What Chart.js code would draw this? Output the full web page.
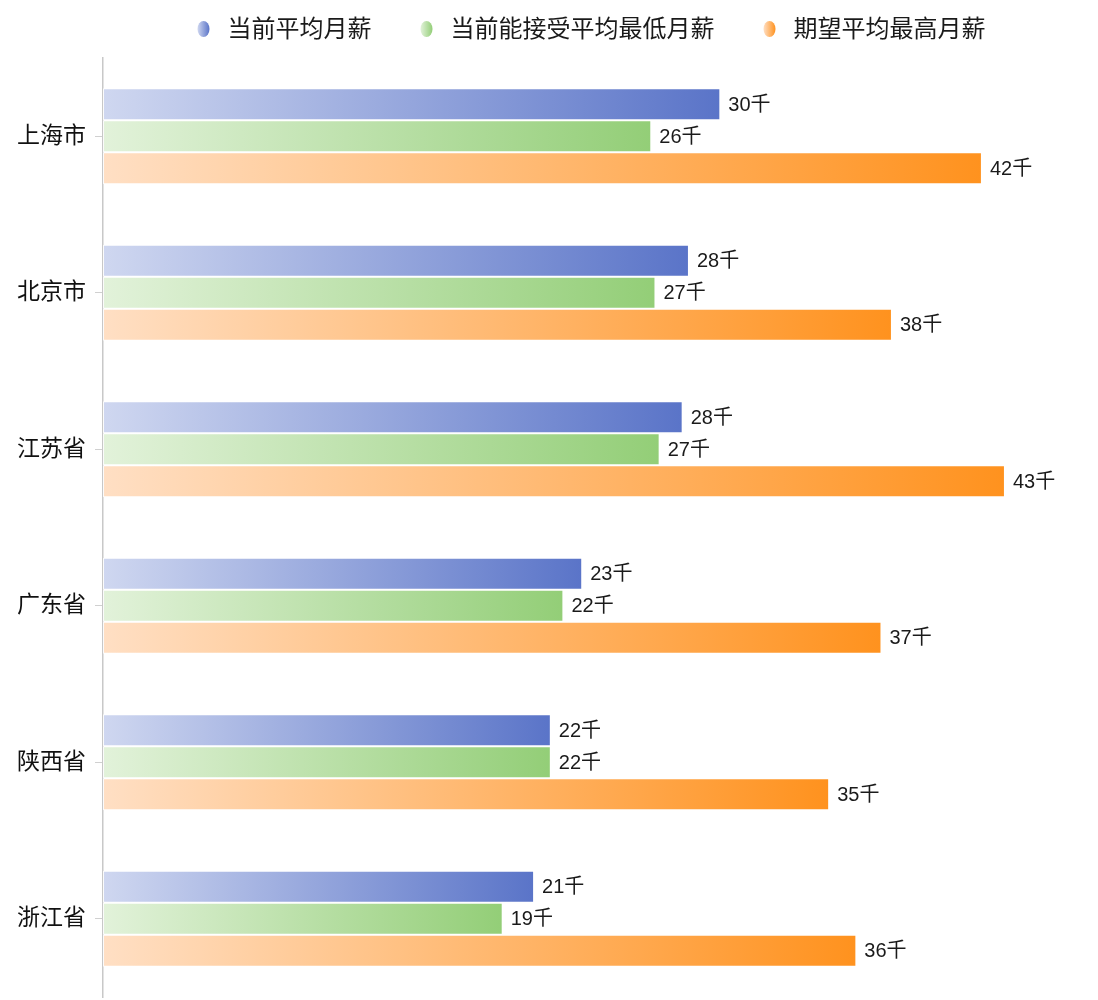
<!DOCTYPE html>
<html>
<head>
<meta charset="utf-8">
<script src="https://cdn.jsdelivr.net/npm/chart.js@4/dist/chart.umd.min.js"></script>
<style>
  body { margin: 0; background: #fff; }
  #wrap { width: 1098px; height: 1000px; position: relative; }
</style>
</head>
<body>
<div id="wrap"><canvas id="salaryChart"></canvas></div>
<script>
const cities = ['上海市', '北京市', '江苏省', '广东省', '陕西省', '浙江省'];
const seriesNames = ['当前平均月薪', '当前能接受平均最低月薪', '期望平均最高月薪'];

// values in thousands
const currentAvg = [29.5, 28.0, 27.7, 22.9, 21.4, 20.6];
const minAccept = [26.2, 26.4, 26.6, 22.0, 21.4, 19.1];
const expectMax = [42.0, 37.7, 43.1, 37.2, 34.7, 36.0];

// numbers printed next to the bars
const currentAvgLabels = [30, 28, 28, 23, 22, 21];
const minAcceptLabels = [26, 27, 27, 22, 22, 19];
const expectMaxLabels = [42, 38, 43, 37, 35, 36];

const fontFamily = '"Liberation Sans", Arial, "Noto Sans CJK SC", sans-serif';

// light -> dark per series
const colorStops = [
  ['#cfd7f0', '#5a74c8'],
  ['#e2f2da', '#93ce77'],
  ['#ffdfc4', '#ff921e']
];

function barGradient(idx) {
  return (c) => {
    const chart = c.chart;
    if (!chart.chartArea || c.raw == null) return colorStops[idx][1];
    const x = chart.scales.x;
    const x0 = x.getPixelForValue(0);
    const x1 = x.getPixelForValue(c.raw);
    const grad = chart.ctx.createLinearGradient(x0, 0, Math.max(x1, x0 + 1), 0);
    grad.addColorStop(0, colorStops[idx][0]);
    grad.addColorStop(1, colorStops[idx][1]);
    return grad;
  };
}

const valueLabels = [currentAvgLabels, minAcceptLabels, expectMaxLabels];

const barLabelPlugin = {
  id: 'barLabels',
  afterDatasetsDraw(chart) {
    const ctx = chart.ctx;
    ctx.save();
    ctx.font = '20px ' + fontFamily;
    ctx.fillStyle = '#1a1a1a';
    ctx.textAlign = 'left';
    ctx.textBaseline = 'middle';
    chart.data.datasets.forEach((ds, i) => {
      const meta = chart.getDatasetMeta(i);
      if (meta.hidden) return;
      meta.data.forEach((bar, j) => {
        ctx.fillText(valueLabels[i][j] + '千', bar.x + 8, bar.y + 1);
      });
    });
    ctx.restore();
  }
};

// legend drawn by hand: gradient ellipse markers, centred over the plot area
const legendPlugin = {
  id: 'topLegend',
  afterDraw(chart) {
    const ctx = chart.ctx;
    const area = chart.chartArea;
    const markerW = 12, textGap = 18, itemGap = 49, cy = 29;
    ctx.save();
    ctx.font = '24px ' + fontFamily;
    const widths = seriesNames.map(t => markerW + textGap + ctx.measureText(t).width);
    const total = widths.reduce((a, b) => a + b, 0) + itemGap * (widths.length - 1);
    let x = (area.left + area.right) / 2 + 3 - total / 2;
    seriesNames.forEach((name, i) => {
      const grad = ctx.createLinearGradient(x, 0, x + markerW, 0);
      grad.addColorStop(0, colorStops[i][0]);
      grad.addColorStop(1, colorStops[i][1]);
      ctx.fillStyle = grad;
      ctx.beginPath();
      ctx.ellipse(x + markerW / 2, cy, 6, 8, 0, 0, Math.PI * 2);
      ctx.fill();
      ctx.fillStyle = '#1a1a1a';
      ctx.textAlign = 'left';
      ctx.textBaseline = 'middle';
      ctx.fillText(name, x + markerW + textGap, cy + 1);
      x += widths[i] + itemGap;
    });
    ctx.restore();
  }
};

const datasets = [currentAvg, minAccept, expectMax].map((vals, i) => ({
  label: seriesNames[i],
  data: vals,
  backgroundColor: barGradient(i),
  borderColor: 'rgba(255,255,255,0.85)',
  borderWidth: 1,
  borderSkipped: false,
  barPercentage: 1,
  categoryPercentage: 0.615
}));

new Chart(document.getElementById('salaryChart'), {
  type: 'bar',
  data: { labels: cities, datasets },
  plugins: [barLabelPlugin, legendPlugin],
  options: {
    indexAxis: 'y',
    responsive: true,
    maintainAspectRatio: false,
    animation: false,
    layout: { padding: { left: 8, right: 24, top: 58, bottom: 3 } },
    plugins: {
      tooltip: { enabled: false },
      legend: { display: false }
    },
    scales: {
      x: {
        display: false,
        min: 0,
        max: 46.4
      },
      y: {
        border: { display: true, color: '#c8c8c8', width: 1.5 },
        grid: {
          drawOnChartArea: false,
          offset: false,
          tickLength: 8,
          color: '#d0d0d0'
        },
        ticks: {
          padding: 9,
          color: '#111',
          font: { family: fontFamily, size: 23 }
        },
        afterFit(scale) {
          // labels sit inside their bands, no need for extra room above/below
          scale.paddingTop = 0;
          scale.paddingBottom = 0;
        }
      }
    }
  }
});
</script>
</body>
</html>
